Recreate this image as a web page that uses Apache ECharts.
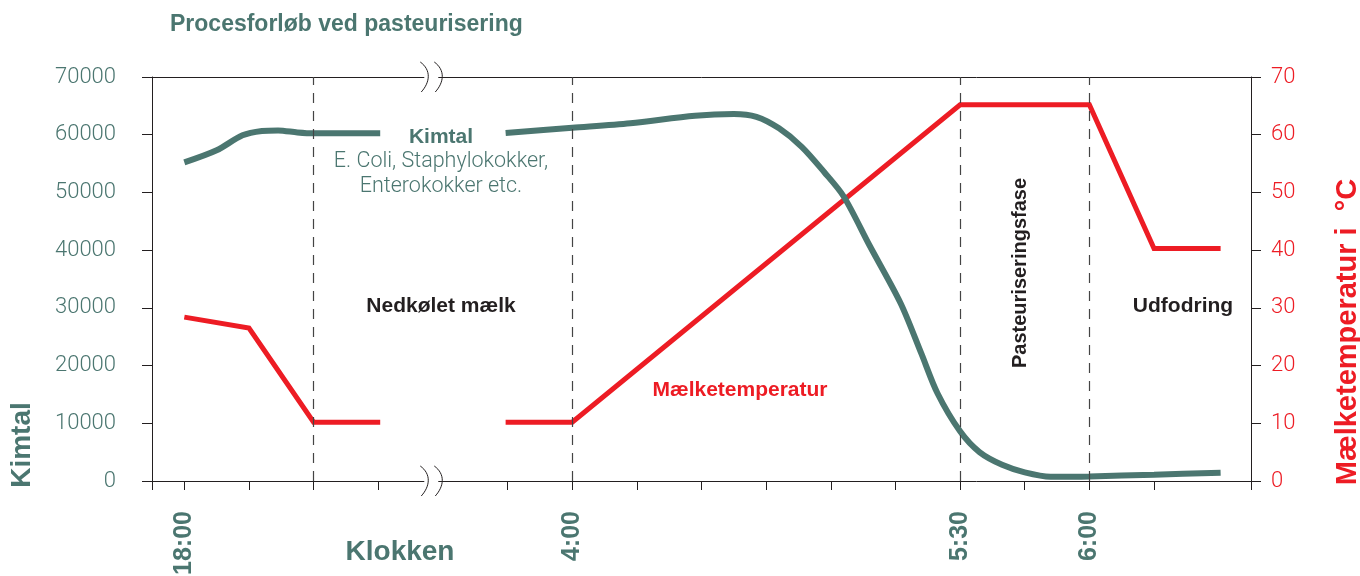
<!DOCTYPE html>
<html><head><meta charset="utf-8">
<script src="https://cdn.jsdelivr.net/npm/echarts@6/dist/echarts.min.js"></script>
<style>html,body{margin:0;padding:0;background:#fff}#c{width:1360px;height:576px}</style>
</head><body><div id="c"></div>
<script>
// x positions are in "time slot" units: 0 = 18:00, 6 = 4:00, 12 = 5:30, 14 = 6:00
const kimtalTime  = [0, 0.5, 0.9, 1.2, 1.45, 1.75, 2.0, 3.03, 4, 4.97, 6.0, 6.9, 7.9, 8.5, 8.85, 9.2, 9.55, 9.9, 10.2, 10.6, 11.08, 11.4, 11.65, 12.0, 12.3, 12.65, 13.0, 13.4, 14.0, 15.0, 16.03];
const kimtalValue = [55200, 57300, 59900, 60650, 60750, 60400, 60250, 60250, null, 60300, 61200, 62000, 63300, 63600, 63100, 61100, 57900, 53500, 49300, 40800, 30800, 22100, 15200, 8600, 5000, 2800, 1500, 750, 800, 1100, 1450];
const tempTime  = [0, 1, 2, 3.03, 4, 4.97, 6, 12, 14, 15, 16.03];
const tempValue = [28.4, 26.5, 10.2, 10.2, null, 10.2, 10.2, 65.2, 65.2, 40.3, 40.3];
const phaseLines = [2, 6, 12, 14];
const timeTickPos = [0, 6, 12, 14];
const timeTickLabels = ['18:00', '4:00', '5:30', '6:00'];
const minorTickPos = [-0.5, 0, 1, 2, 3, 5, 6, 7, 8, 9, 10, 11, 12, 13, 14, 15, 16.5];
const breakMarks = [[3.82, 70000], [3.82, 0]];

const TEAL = '#4b7670', RED = '#ed1c24', DARK = '#231f20';
const chart = echarts.init(document.getElementById('c'), null, {renderer: 'canvas'});

const kimtalData = kimtalTime.map((t, i) => [t, kimtalValue[i] === null ? '-' : kimtalValue[i]]);
const tempData = tempTime.map((t, i) => [t, tempValue[i] === null ? '-' : tempValue[i]]);

const axisLineStyle = {color: DARK, width: 1};
chart.setOption({
  animation: false,
  grid: {left: 152, right: 109, top: 77, bottom: 95, outerBoundsMode: 'none', containLabel: false},
  xAxis: [{
    type: 'value', min: -0.5, max: 16.5, position: 'bottom',
    axisLine: {show: true, onZero: false, lineStyle: axisLineStyle},
    axisTick: {show: true, length: 9, customValues: minorTickPos, lineStyle: axisLineStyle},
    axisLabel: {show: true, customValues: timeTickPos, rotate: 90, margin: 30,
      formatter: v => timeTickLabels[timeTickPos.indexOf(v)] || '',
      color: TEAL, fontFamily: 'Liberation Sans', fontWeight: 'bold', fontSize: 25},
    splitLine: {show: false}
  }, {
    type: 'value', min: -0.5, max: 16.5, position: 'top',
    axisLine: {show: true, onZero: false, lineStyle: axisLineStyle},
    axisTick: {show: false}, axisLabel: {show: false}, splitLine: {show: false}
  }],
  yAxis: [{
    type: 'value', min: 0, max: 70000, interval: 10000, position: 'left',
    axisLine: {show: true, onZero: false, lineStyle: axisLineStyle},
    axisTick: {show: true, length: 10, lineStyle: axisLineStyle},
    axisLabel: {margin: 36, color: TEAL, fontFamily: 'Roboto', fontWeight: 300, fontSize: 22, formatter: v => String(v)},
    splitLine: {show: false}
  }, {
    type: 'value', min: 0, max: 70, interval: 10, position: 'right',
    axisLine: {show: true, onZero: false, lineStyle: axisLineStyle},
    axisTick: {show: true, length: 10, lineStyle: axisLineStyle},
    axisLabel: {margin: 20, color: RED, fontFamily: 'Roboto', fontWeight: 300, fontSize: 22, formatter: v => String(v)},
    splitLine: {show: false}
  }],
  series: [{
    name: 'Mælketemperatur', type: 'line', yAxisIndex: 1, data: tempData,
    showSymbol: false, connectNulls: false,
    lineStyle: {color: RED, width: 5, cap: 'butt', join: 'miter'},
    markLine: {
      silent: true, symbol: ['none', 'none'], label: {show: false},
      lineStyle: {type: [10, 8], color: '#444', width: 1.2},
      data: phaseLines.map(x => ({xAxis: x}))
    },
    z: 3
  }, {
    name: 'Kimtal', type: 'line', yAxisIndex: 0, data: kimtalData,
    showSymbol: false, connectNulls: false, smooth: 0.3,
    lineStyle: {color: TEAL, width: 6, cap: 'butt'},
    z: 4
  }, {
    type: 'custom', yAxisIndex: 0, data: breakMarks, clip: false, silent: true, z: 10,
    renderItem: function (params, api) {
      const p = api.coord([api.value(0), api.value(1)]);
      const cx = p[0], cy = p[1];
      const curve = x => ({type: 'bezierCurve',
        shape: {x1: x - 4, y1: cy - 15, cpx1: x + 7, cpy1: cy - 7, cpx2: x + 6, cpy2: cy + 5, x2: x - 3, y2: cy + 15},
        style: {stroke: DARK, lineWidth: 1, fill: null}});
      return {type: 'group', children: [
        {type: 'rect', shape: {x: cx - 7, y: cy - 3, width: 14, height: 6}, style: {fill: '#fff'}},
        curve(cx - 7), curve(cx + 7)
      ]};
    }
  }],
  graphic: [
    {type: 'text', x: 170, y: 25, style: {text: 'Procesforløb ved pasteurisering', fill: TEAL, font: 'bold 23px "Liberation Sans Narrow", "Liberation Sans", sans-serif', align: 'left', verticalAlign: 'middle'}},
    {type: 'text', x: 22, y: 445, rotation: Math.PI / 2, style: {text: 'Kimtal', fill: TEAL, font: 'bold 28px "Liberation Sans", sans-serif', align: 'center', verticalAlign: 'middle'}},
    {type: 'text', x: 1348, y: 332, rotation: Math.PI / 2, style: {text: 'Mælketemperatur i  °C', fill: RED, font: 'bold 29px "Liberation Sans", sans-serif', align: 'center', verticalAlign: 'middle'}},
    {type: 'text', x: 400, y: 552, style: {text: 'Klokken', fill: TEAL, font: 'bold 28px "Liberation Sans", sans-serif', align: 'center', verticalAlign: 'middle'}},
    {type: 'text', x: 441, y: 137, style: {text: 'Kimtal', fill: TEAL, font: 'bold 21px "Liberation Sans", sans-serif', align: 'center', verticalAlign: 'middle'}},
    {type: 'text', x: 441, y: 162, style: {text: 'E. Coli, Staphylokokker,', fill: TEAL, font: '300 21.5px Roboto, sans-serif', align: 'center', verticalAlign: 'middle'}},
    {type: 'text', x: 441, y: 187, style: {text: 'Enterokokker etc.', fill: TEAL, font: '300 21.5px Roboto, sans-serif', align: 'center', verticalAlign: 'middle'}},
    {type: 'text', x: 441, y: 306, style: {text: 'Nedkølet mælk', fill: DARK, font: 'bold 21px "Liberation Sans", sans-serif', align: 'center', verticalAlign: 'middle'}},
    {type: 'text', x: 740, y: 390, style: {text: 'Mælketemperatur', fill: RED, font: 'bold 21px "Liberation Sans", sans-serif', align: 'center', verticalAlign: 'middle'}},
    {type: 'text', x: 1020, y: 273, rotation: Math.PI / 2, style: {text: 'Pasteuriseringsfase', fill: DARK, font: 'bold 20px "Liberation Sans", sans-serif', align: 'center', verticalAlign: 'middle'}},
    {type: 'text', x: 1183, y: 306, style: {text: 'Udfodring', fill: DARK, font: 'bold 21px "Liberation Sans", sans-serif', align: 'center', verticalAlign: 'middle'}}
  ]
});
</script></body></html>
